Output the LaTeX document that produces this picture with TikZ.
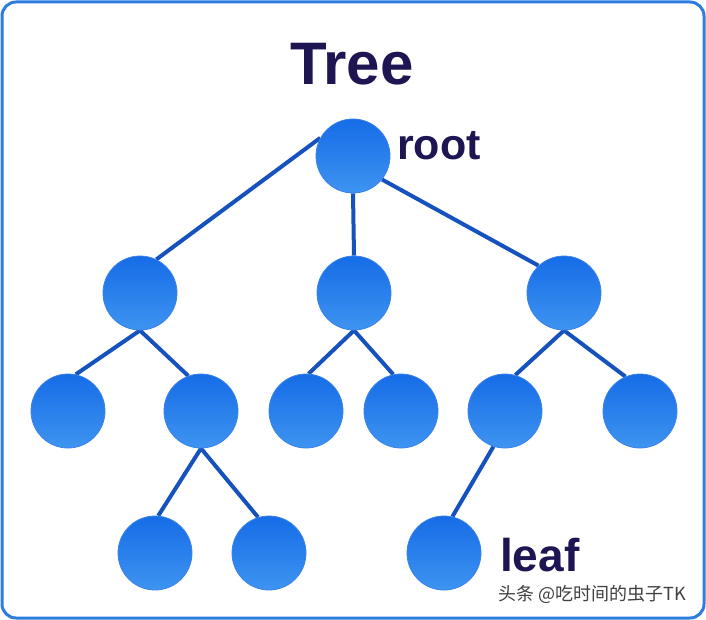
\documentclass[tikz,border=0pt]{standalone}
\usepackage{fontspec}
\setmainfont{Liberation Sans}
\newfontfamily\cjkfont{Noto Sans CJK SC}
\usetikzlibrary{positioning,backgrounds}
\definecolor{titlenavy}{RGB}{30,22,82}
\definecolor{framebl}{RGB}{45,125,225}
\definecolor{edgebl}{RGB}{22,82,190}
\definecolor{balltop}{RGB}{22,108,230}
\definecolor{ballbot}{RGB}{62,148,240}

\begin{document}
\begin{tikzpicture}[x=1pt,y=-1pt,
    ball/.style={circle, minimum size=74pt, inner sep=0pt, top color=balltop, bottom color=ballbot, draw=balltop!85!white, line width=0.8pt},
    branch/.style={edgebl, line width=4pt},
    lbl/.style={text=titlenavy, inner sep=0pt, font=\bfseries\fontsize{43}{43}\selectfont}]
    \useasboundingbox (0,0) rectangle (706,620);

    \node[lbl, anchor=base, font=\bfseries\fontsize{60}{60}\selectfont] (title) at (352,85) {Tree};

    % Nodes of the tree
    \node[ball] (root) at (353,156) {};
    \node[ball] (a) at (140,293) {};
    \node[ball] (b) at (354,293) {};
    \node[ball] (c) at (564,293) {};
    \node[ball] (aa) at (68,411) {};
    \node[ball] (ab) at (201,411) {};
    \node[ball] (ba) at (306,411) {};
    \node[ball] (bb) at (401,411) {};
    \node[ball] (ca) at (505,411) {};
    \node[ball] (cb) at (640,411) {};
    \node[ball] (aba) at (155,553) {};
    \node[ball] (abb) at (269,553) {};
    \node[ball] (caa) at (444,553) {};

    \begin{scope}[on background layer]
    % Frame
    \draw[framebl, line width=3pt, rounded corners=14pt, fill=white] (2,2) rectangle (704,618);
    % Branches
    \draw[branch] (root.151) -- (a.64);
    \draw[branch] (root.south) -- (b.north);
    \draw[branch] (root.-39) -- (c.133);
    \draw[branch] (a.south) -- (aa.78);
    \draw[branch] (a.south) -- (ab.110);
    \draw[branch] (b.south) -- (ba.86);
    \draw[branch] (b.south) -- (bb.102);
    \draw[branch] (c.south) -- (ca.74);
    \draw[branch] (c.south) -- (cb.113);
    \draw[branch] (ab.south) -- (aba.85);
    \draw[branch] (ab.south) -- (abb.107);
    \draw[branch] (ca.-108) -- (caa.77);
    \end{scope}

    \node[lbl, anchor=base west] (rootlbl) at (397,160) {root};
    \node[lbl, anchor=base west, font=\bfseries\fontsize{46}{46}\selectfont] (leaflbl) at (500,571) {leaf};

    \node[anchor=base west, inner sep=0pt, text=black!75, font=\cjkfont\fontsize{18}{18}\selectfont] (mark) at (498,600) {头条 @吃时间的虫子TK};
\end{tikzpicture}
\end{document}
